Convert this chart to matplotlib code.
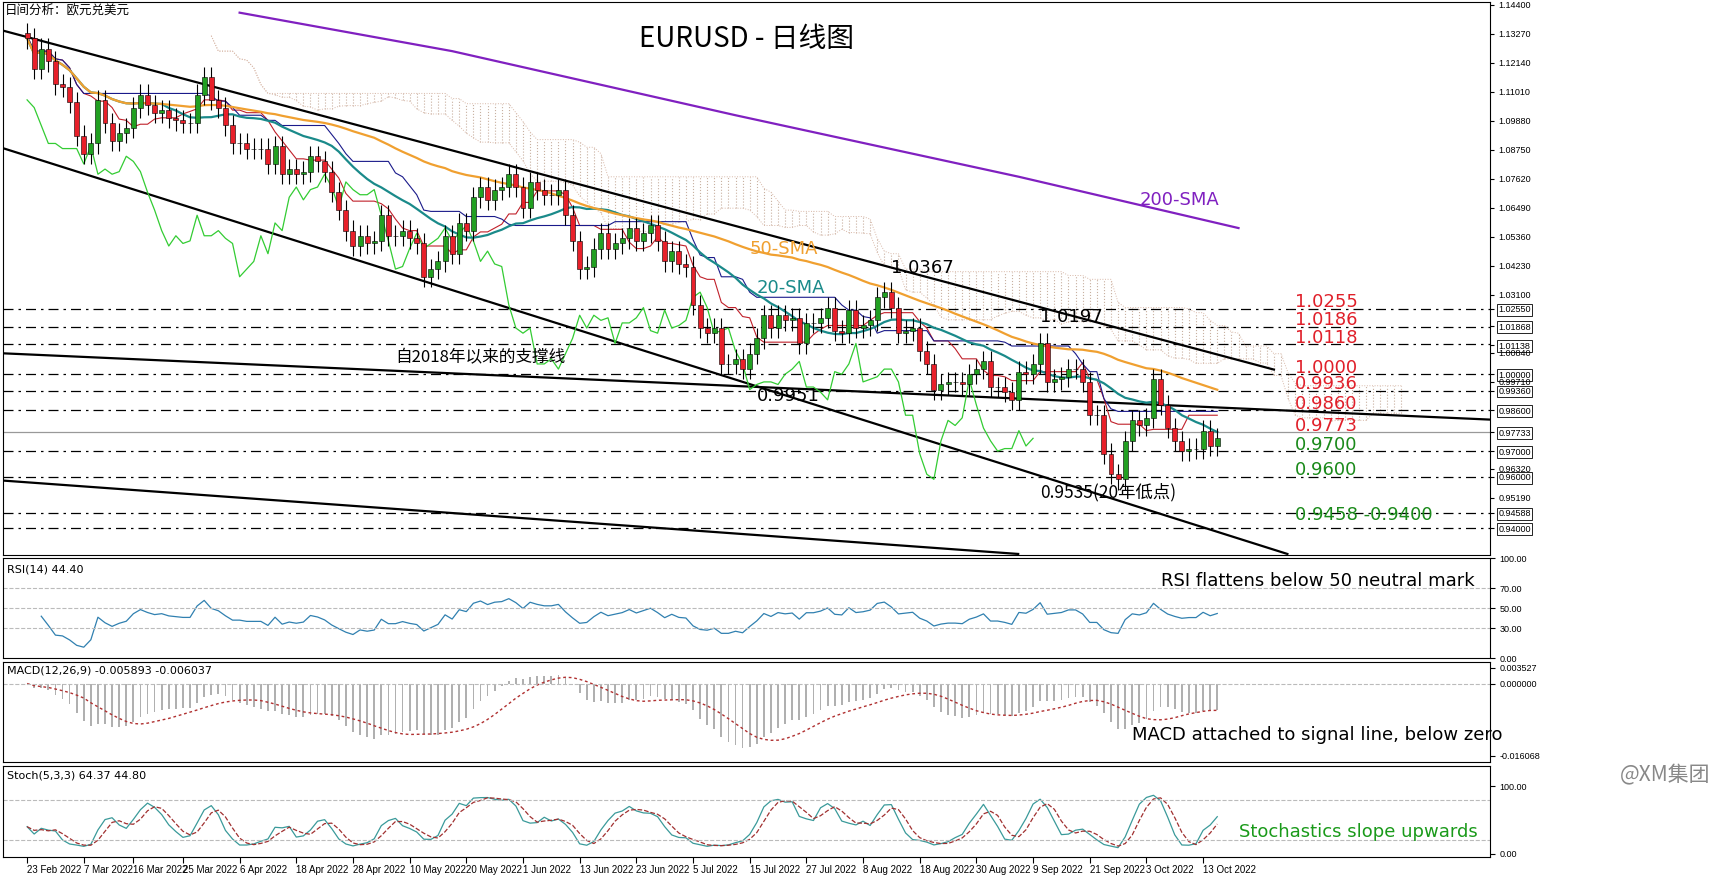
import numpy as np
import pandas as pd
import matplotlib
matplotlib.use("Agg")
import matplotlib.pyplot as plt

plt.rcParams["font.family"] = ["Noto Sans CJK SC", "DejaVu Sans"]

# daily closes, 23 Feb 2022 .. 17 Oct 2022
closes = [
    1.131, 1.119, 1.127,
    1.122, 1.113, 1.112, 1.106, 1.093,
    1.086, 1.090, 1.107, 1.098, 1.091,
    1.094, 1.096, 1.104, 1.109, 1.105,
    1.102, 1.103, 1.100, 1.099, 1.098,
    1.098, 1.109, 1.116, 1.107, 1.104,
    1.097, 1.090, 1.090, 1.088, 1.088,
    1.088, 1.082, 1.089, 1.078, 1.080,
    1.078, 1.079, 1.085, 1.083, 1.079,
    1.071, 1.064, 1.056, 1.050, 1.054,
    1.051, 1.052, 1.062, 1.054, 1.054,
    1.056, 1.053, 1.051, 1.038, 1.041,
    1.044, 1.054, 1.047, 1.059, 1.056,
    1.069, 1.073, 1.068, 1.072, 1.073,
    1.078, 1.073, 1.065, 1.075, 1.072,
    1.070, 1.070, 1.072, 1.062, 1.052,
    1.041, 1.042, 1.049, 1.055, 1.049,
    1.051, 1.053, 1.057, 1.052, 1.055,
    1.058, 1.052, 1.044, 1.048, 1.043,
    1.042, 1.027, 1.018, 1.016, 1.018,
    1.004, 1.004, 1.006, 1.002, 1.008,
    1.014, 1.023, 1.018, 1.023, 1.021,
    1.022, 1.012, 1.020, 1.020, 1.022,
    1.026, 1.017, 1.016, 1.025, 1.018,
    1.019, 1.021, 1.030, 1.032, 1.026,
    1.016, 1.017, 1.018, 1.009, 1.004,
    0.994, 0.996, 0.997, 0.997, 0.996,
    1.000, 1.002, 1.005, 0.995, 0.995,
    0.993, 0.990, 1.001, 1.000, 1.004,
    1.012, 0.997, 0.998, 0.999, 1.002,
    1.002, 0.997, 0.984, 0.984, 0.969,
    0.961, 0.959, 0.974, 0.982, 0.980,
    0.983, 0.998, 0.988, 0.979, 0.974,
    0.970, 0.971, 0.971, 0.978, 0.972,
    0.975,
]
first_open = 1.133
wick = 0.004

# 200-SMA read at a few bar indices
sma200_idx = [30, 60, 100, 140, 171]
sma200_val = [1.141, 1.126, 1.101, 1.077, 1.057]

levels = [1.0255, 1.0186, 1.0118, 1.0000, 0.9936, 0.9860, 0.9700, 0.9600, 0.9458, 0.9400]
level_labels = ["1.0255", "1.0186", "1.0118", "1.0000", "0.9936", "0.9860", "0.9773", "0.9700", "0.9600"]
level_label_y = [1.0255, 1.0186, 1.0118, 1.0000, 0.9936, 0.9860, 0.9773, 0.9700, 0.9600]
level_label_col = ["#e0202a"] * 7 + ["#1a8a1a"] * 2

right_ticks = [1.14400, 1.13270, 1.12140, 1.11010, 1.09880, 1.08750, 1.07620, 1.06490,
               1.05360, 1.04230, 1.03100, 1.02550, 1.01868, 1.01138, 1.00840, 1.00000,
               0.99710, 0.99360, 0.98600, 0.97733, 0.97000, 0.96320, 0.96000, 0.95190,
               0.94588, 0.94000]
boxed = {1.02550, 1.01868, 1.01138, 1.00000, 0.99360, 0.98600, 0.97733, 0.97000, 0.96000, 0.94588, 0.94000}

tick_dates = ["2022-02-23", "2022-03-07", "2022-03-16", "2022-03-25", "2022-04-06", "2022-04-18",
              "2022-04-28", "2022-05-10", "2022-05-20", "2022-06-01", "2022-06-13", "2022-06-23",
              "2022-07-05", "2022-07-15", "2022-07-27", "2022-08-08", "2022-08-18", "2022-08-30",
              "2022-09-09", "2022-09-21", "2022-10-03", "2022-10-13"]

dates = pd.bdate_range("2022-02-23", "2022-10-17")
n = len(closes)
c = pd.Series(closes)
o = pd.Series([first_open] + closes[:-1])
hi = np.maximum(o, c) + wick
lo = np.minimum(o, c) - wick
x = np.arange(n)

W, H = 1720, 888
fig = plt.figure(figsize=(17.2, 8.88), dpi=100)
SMALL = ["DejaVu Sans"]
NARROW = ["Liberation Sans", "DejaVu Sans"]


def pax(top, bottom, left=3, right=1490):
    return fig.add_axes([left / W, 1 - bottom / H, (right - left) / W, (bottom - top) / H])


XL = (-3.4, 206.5)
ax = pax(2, 555)
ax.set_xlim(*XL)
ax.set_ylim(1.144 - 553 / 2578, 1.144 + 3 / 2578)

# ichimoku
tenkan = (pd.Series(hi).rolling(9, min_periods=1).max() + pd.Series(lo).rolling(9, min_periods=1).min()) / 2
kijun = (pd.Series(hi).rolling(26, min_periods=1).max() + pd.Series(lo).rolling(26, min_periods=1).min()) / 2
spanA = (tenkan + kijun) / 2
spanB = (pd.Series(hi).rolling(52, min_periods=1).max() + pd.Series(lo).rolling(52, min_periods=1).min()) / 2
xs = x + 26
ax.vlines(xs, np.minimum(spanA, spanB), np.maximum(spanA, spanB), colors="#c8b0a0",
          linestyles=":", lw=0.8, zorder=1)
ax.plot(xs, spanA, color="#d8b8a8", lw=0.7, ls=":")
ax.plot(xs, spanB, color="#d8b8a8", lw=0.7, ls=":")
ax.plot(x, tenkan, color="#c0202a", lw=0.8, zorder=3)
ax.plot(x, kijun, color="#1a1a8a", lw=0.8, zorder=3)
ax.plot(x[:-26], c[26:].values, color="#33cc33", lw=0.9, zorder=3)

# moving averages
ax.plot(x, c.rolling(20, min_periods=1).mean(), color="#1a8a8a", lw=1.6, zorder=4)
ax.plot(x, c.rolling(50, min_periods=1).mean(), color="#f0a030", lw=1.6, zorder=4)
ax.plot(sma200_idx, sma200_val, color="#8020c0", lw=1.6, zorder=4)

# trend lines
ax.plot([-3.8, 176], [1.1343, 1.0018], color="black", lw=1.6, zorder=2)
ax.plot([-3.8, 177.9], [1.0885, 0.9299], color="black", lw=1.6, zorder=2)
ax.plot([-3.8, 206.5], [1.0082, 0.9823], color="black", lw=1.6, zorder=2)
ax.plot([-3.8, 139.9], [0.9586, 0.9299], color="black", lw=1.6, zorder=2)

for lv in levels:
    ax.axhline(lv, color="black", lw=0.9, ls=(0, (8, 4, 2, 4)), zorder=1)
ax.axhline(0.97733, color="#999999", lw=0.9, zorder=1)

# candles
up = c >= o
ax.vlines(x, lo, hi, color="black", lw=0.8, zorder=5)
ax.bar(x[up], (c - o)[up], bottom=o[up], width=0.7, color="#22a022", edgecolor="black", lw=0.4, zorder=6)
ax.bar(x[~up], (o - c)[~up], bottom=c[~up], width=0.7, color="#e8202a", edgecolor="black", lw=0.4, zorder=6)

for lab, yv, col in zip(level_labels, level_label_y, level_label_col):
    ax.text(179, yv + 0.0025, lab, color=col, fontsize=13, va="center", family=SMALL)
ax.text(179, 0.9458 - 0.0006, "0.9458 -0.9400", color="#1a8a1a", fontsize=13, va="center", family=SMALL)
ax.text(122, 1.0395, "1.0367", fontsize=13, family=SMALL)
ax.text(143, 1.0205, "1.0197", fontsize=13, family=SMALL)
ax.text(103, 0.9895, "0.9951", fontsize=13, family=SMALL)
ax.text(143, 0.9520, "0.9535(20年低点)", fontsize=12.5)
ax.text(52, 1.0045, "自2018年以来的支撑线", fontsize=12)
ax.text(157, 1.066, "200-SMA", color="#8020c0", fontsize=13, family=SMALL)
ax.text(102, 1.047, "50-SMA", color="#f0a030", fontsize=13, family=SMALL)
ax.text(103, 1.0315, "20-SMA", color="#1a8a8a", fontsize=13, family=SMALL)
ax.text(0.5, 0.96, "EURUSD - 日线图", transform=ax.transAxes, ha="center", va="top", fontsize=20)
ax.text(0.001, 0.997, "日间分析：欧元兑美元", transform=ax.transAxes, ha="left", va="top", fontsize=9)

ax.yaxis.tick_right()
ax.set_yticks(right_ticks)
ax.set_yticklabels([f"{t:.5f}" for t in right_ticks], fontsize=6.5, family=NARROW)
for t, lab in zip(right_ticks, ax.get_yticklabels()):
    if round(t, 5) in boxed:
        lab.set_bbox(dict(fc="white", ec="black", lw=0.6, pad=1))
ax.tick_params(axis="y", length=3, pad=3)
ax.set_xticks([])

# RSI
delta = c.diff().fillna(0)
gain = delta.clip(lower=0).ewm(alpha=1 / 14, adjust=False).mean()
loss = (-delta.clip(upper=0)).ewm(alpha=1 / 14, adjust=False).mean()
rsi = 100 - 100 / (1 + gain / loss.replace(0, 1e-9))
ax1 = pax(558, 658)
ax1.set_xlim(*XL)
ax1.set_ylim(0, 100)
ax1.plot(x[2:], rsi[2:], color="#3080b0", lw=0.9)
for lv in (70, 50, 30):
    ax1.axhline(lv, color="#bbbbbb", lw=0.8, ls="--")
ax1.text(0.003, 0.93, "RSI(14) 44.40", transform=ax1.transAxes, fontsize=8, va="top", family=SMALL)
ax1.text(160, 72, "RSI flattens below 50 neutral mark", fontsize=13, family=SMALL)
ax1.yaxis.tick_right()
ax1.set_yticks([100, 70, 50, 30, 0])
ax1.set_yticklabels(["100.00", "70.00", "50.00", "30.00", "0.00"], fontsize=6.5, family=NARROW)
ax1.set_xticks([])

# MACD
macd = c.ewm(span=12, adjust=False).mean() - c.ewm(span=26, adjust=False).mean()
sig = macd.rolling(9, min_periods=1).mean()
ax2 = pax(662, 762)
ax2.set_xlim(*XL)
ax2.set_ylim(-0.0175, 0.0048)
ax2.bar(x, macd, width=0.25, color="#b0b0b0")
ax2.plot(x, sig, color="#b03030", lw=1.0, ls=(0, (2, 2)))
ax2.axhline(0, color="#bbbbbb", lw=0.8, ls="--")
ax2.text(0.003, 0.97, "MACD(12,26,9) -0.005893 -0.006037", transform=ax2.transAxes, fontsize=8, va="top", family=SMALL)
ax2.text(156, -0.0125, "MACD attached to signal line, below zero", fontsize=13, family=SMALL)
ax2.yaxis.tick_right()
ax2.set_yticks([0.003527, 0.0, -0.016068])
ax2.set_yticklabels(["0.003527", "0.000000", "-0.016068"], fontsize=6.5, family=NARROW)
ax2.set_xticks([])

# Stochastic
ll = pd.Series(lo).rolling(5, min_periods=1).min()
hh = pd.Series(hi).rolling(5, min_periods=1).max()
k = (100 * (c - ll) / (hh - ll)).rolling(3, min_periods=1).mean()
d = k.rolling(3, min_periods=1).mean()
ax3 = pax(766, 857)
ax3.set_xlim(*XL)
ax3.set_ylim(-5, 130)
ax3.plot(x, k, color="#3a9a9a", lw=0.9)
ax3.plot(x, d, color="#a03030", lw=0.9, ls="--")
for lv in (80, 20):
    ax3.axhline(lv, color="#bbbbbb", lw=0.8, ls="--")
ax3.text(0.003, 0.95, "Stoch(5,3,3) 64.37 44.80", transform=ax3.transAxes, fontsize=8, va="top", family=SMALL)
ax3.text(171, 25, "Stochastics slope upwards", color="#1a9a1a", fontsize=13, family=SMALL)
ax3.yaxis.tick_right()
ax3.set_yticks([100, 0])
ax3.set_yticklabels(["100.00", "0.00"], fontsize=6.5, family=NARROW)
pos = [dates.get_loc(pd.Timestamp(t)) for t in tick_dates]
ax3.set_xticks(pos)
ax3.set_xticklabels([pd.Timestamp(t).strftime("%-d %b %Y") for t in tick_dates],
                    fontsize=7, ha="left", family=NARROW)
ax3.tick_params(axis="x", length=4, pad=2)

fig.text(1 - 10 / W, 1 - 775 / H, "@XM集团", ha="right", va="center", fontsize=15, color="#888888")

fig.savefig("out.png", dpi=100, facecolor="white")
